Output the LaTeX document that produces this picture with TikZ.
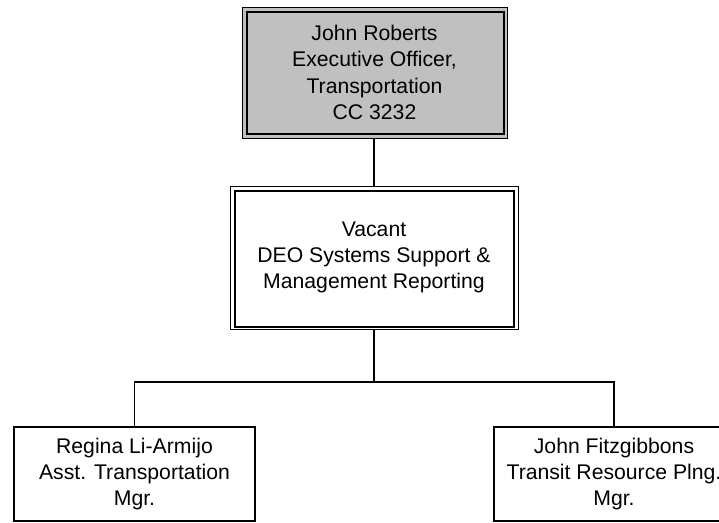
\documentclass[tikz,border=0pt]{standalone}
\usepackage{fontspec}
\setmainfont{Liberation Sans}
\definecolor{boxgray}{HTML}{C0C0C0}
\tikzset{
  orgbox/.style={draw=black, line width=1pt, rectangle, align=center, inner sep=0pt,
    font=\fontsize{21.2}{26.2}\selectfont},
  conn/.style={draw=black, line width=1.5pt},
  innerline/.style={draw=black, line width=2pt}
}
\begin{document}
\begin{tikzpicture}[x=1pt,y=-1pt]
\useasboundingbox (0,0) rectangle (719,522);
\clip (0,0) rectangle (719,522);
\node[orgbox, fill=boxgray, minimum width=265pt, minimum height=131pt] (top) at (374.5,72.5)
  {John Roberts\\Executive Officer,\\Transportation\\CC 3232};
\draw[innerline] ([xshift=5pt,yshift=-5pt]top.north west) rectangle ([xshift=-4pt,yshift=5pt]top.south east);
\node[orgbox, fill=white, minimum width=288pt, minimum height=143pt] (mid) at (374,257.5)
  {Vacant\\DEO Systems Support \&\\Management Reporting};
\draw[innerline] ([xshift=5pt,yshift=-5pt]mid.north west) rectangle ([xshift=-5pt,yshift=3pt]mid.south east);
\node[orgbox, line width=1.5pt, minimum width=241pt, minimum height=94pt] (left) at (134.5,474)
  {Regina Li-Armijo\\Asst. Transportation\\Mgr.};
\node[orgbox, line width=1.5pt, minimum width=240pt, minimum height=94pt] (right) at (614,474)
  {John Fitzgibbons\\Transit Resource Plng.\\Mgr.};
\coordinate (j) at (374,382);
\draw[conn] (top.south -| mid.north) -- (mid.north);
\draw[conn] (mid.south) -- (j);
\draw[conn] (left.north) |- (j) -| (right.north);
\end{tikzpicture}
\end{document}
